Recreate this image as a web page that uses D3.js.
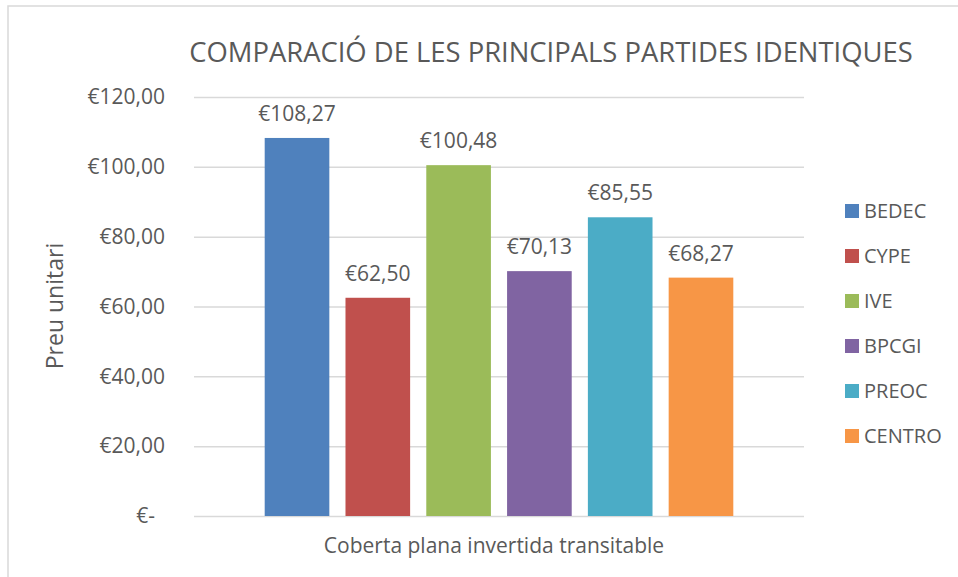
<!DOCTYPE html>
<html>
<head>
<meta charset="utf-8">
<script src="https://cdn.jsdelivr.net/npm/d3@7"></script>
<style>
  body { margin: 0; background: #fff; }
  svg text { font-family: 'Open Sans', sans-serif; fill: #595959; }
</style>
</head>
<body>
<div id="chart"></div>
<script>
// DATA
const categories = ['Coberta plana invertida transitable'];
const series = ['BEDEC', 'CYPE', 'IVE', 'BPCGI', 'PREOC', 'CENTRO'];
const values = [108.27, 62.5, 100.48, 70.13, 85.55, 68.27];
const colors = ['#4f81bd', '#c0504d', '#9bbb59', '#8064a2', '#4bacc6', '#f79646'];
const yTicks = [0, 20, 40, 60, 80, 100, 120];

const W = 958;
const H = 577;
const plot = { left: 194, right: 804, top: 97, bottom: 516 };

// number format like excel accounting: €108,27 / €-
const euro = v => (v === 0 ? '€-' : '€' + v.toFixed(2).replace('.', ','));

const svg = d3
  .select('#chart')
  .append('svg')
  .attr('width', W)
  .attr('height', H);

// chart border
svg
  .append('rect')
  .attr('x', 8)
  .attr('y', 6)
  .attr('width', W + 20)
  .attr('height', H + 20)
  .attr('fill', 'none')
  .attr('stroke', '#d9d9d9')
  .attr('stroke-width', 1.5);

const yScale = d3.scaleLinear().domain([0, 120]).range([plot.bottom, plot.top]);
const x0 = d3.scaleBand().domain(categories).range([plot.left, plot.right]);
const x1 = d3
  .scaleBand()
  .domain(series)
  .range([0, x0.bandwidth()])
  .paddingInner(0.2)
  .paddingOuter(0.875);

// gridlines
svg
  .append('g')
  .attr('transform', `translate(${plot.left},0)`)
  .call(d3.axisLeft(yScale).tickValues(yTicks).tickSize(-(plot.right - plot.left)).tickFormat(''))
  .call(g => g.select('.domain').remove())
  .call(g => g.selectAll('.tick line').attr('stroke', '#d9d9d9').attr('stroke-width', 1.5));

// y axis labels
svg
  .append('g')
  .attr('id', 'y-axis')
  .attr('transform', `translate(${plot.left},0)`)
  .call(d3.axisLeft(yScale).tickValues(yTicks).tickSize(0).tickPadding(29).tickFormat(euro))
  .call(g => g.select('.domain').remove())
  .call(g =>
    g
      .selectAll('.tick text')
      .style('font-size', '21px')
      .attr('fill', '#595959')
      .attr('dx', d => (d === 0 ? -10 : 0))
  );

// bars
const bars = svg
  .append('g')
  .selectAll('g')
  .data(categories)
  .join('g')
  .attr('transform', d => `translate(${x0(d)},0)`);

bars
  .selectAll('rect')
  .data(series.map((s, i) => ({ s, v: values[i], c: colors[i] })))
  .join('rect')
  .attr('x', d => x1(d.s))
  .attr('y', d => yScale(d.v))
  .attr('width', x1.bandwidth())
  .attr('height', d => yScale(0) - yScale(d.v))
  .attr('fill', d => d.c);

// data labels
bars
  .selectAll('text')
  .data(series.map((s, i) => ({ s, v: values[i] })))
  .join('text')
  .attr('x', d => x1(d.s) + x1.bandwidth() / 2)
  .attr('y', d => yScale(d.v) - 17)
  .attr('text-anchor', 'middle')
  .style('font-size', '21px')
  .text(d => euro(d.v));

// x axis category label
svg
  .append('g')
  .attr('transform', `translate(0,${plot.bottom})`)
  .call(d3.axisBottom(x0).tickSize(0).tickPadding(22))
  .call(g => g.select('.domain').remove())
  .call(g =>
    g
      .selectAll('.tick text')
      .style('font-size', '21px')
      .attr('fill', '#595959')
      .attr('dx', -5)
  );

// title
svg
  .append('text')
  .attr('x', 551)
  .attr('y', 62)
  .attr('text-anchor', 'middle')
  .style('font-size', '27.4px')
  .text('COMPARACIÓ DE LES PRINCIPALS PARTIDES IDENTIQUES');

// y axis title
svg
  .append('text')
  .attr('transform', 'translate(63,306) rotate(-90)')
  .attr('text-anchor', 'middle')
  .style('font-size', '23px')
  .text('Preu unitari');

// legend
const legendY = d3.scalePoint().domain(series).range([211, 436]);
const legend = svg
  .append('g')
  .selectAll('g')
  .data(series)
  .join('g')
  .attr('transform', d => `translate(845,${legendY(d)})`);

legend
  .append('rect')
  .attr('x', 0)
  .attr('y', -7)
  .attr('width', 14)
  .attr('height', 14)
  .attr('fill', (d, i) => colors[i]);

legend
  .append('text')
  .attr('x', 19)
  .attr('dy', '0.36em')
  .style('font-size', '20px')
  .text(d => d);
</script>
</body>
</html>
